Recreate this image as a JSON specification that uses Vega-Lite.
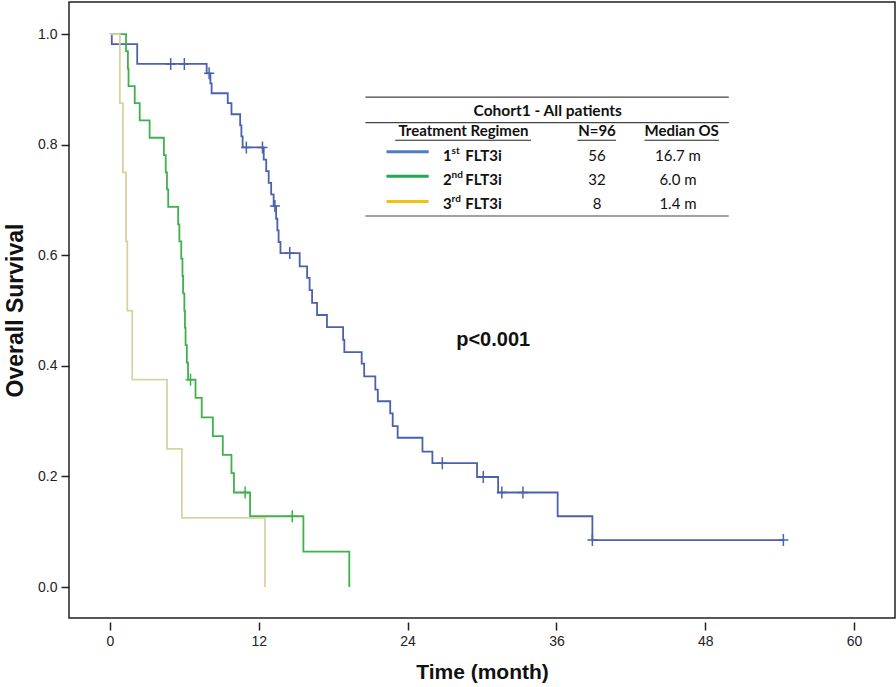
{
  "$schema": "https://vega.github.io/schema/vega-lite/v6.json",
  "width": 826,
  "height": 616,
  "autosize": {"type": "none"},
  "padding": {"left": 69, "top": 2, "right": 1, "bottom": 69},
  "background": "white",
  "config": {"view": {"stroke": "#222", "strokeWidth": 1.5}, "axis": {"grid": false}},
  "datasets": {
    "km": [
      {"regimen": "1st FLT3i", "month": 0, "survival": 1.0},
      {"regimen": "1st FLT3i", "month": 0.15, "survival": 0.982},
      {"regimen": "1st FLT3i", "month": 2.2, "survival": 0.946},
      {"regimen": "1st FLT3i", "month": 7.8, "survival": 0.929},
      {"regimen": "1st FLT3i", "month": 8.1, "survival": 0.911},
      {"regimen": "1st FLT3i", "month": 8.2, "survival": 0.893},
      {"regimen": "1st FLT3i", "month": 9.5, "survival": 0.875},
      {"regimen": "1st FLT3i", "month": 9.8, "survival": 0.855},
      {"regimen": "1st FLT3i", "month": 10.5, "survival": 0.835},
      {"regimen": "1st FLT3i", "month": 10.6, "survival": 0.815},
      {"regimen": "1st FLT3i", "month": 10.7, "survival": 0.795},
      {"regimen": "1st FLT3i", "month": 12.4, "survival": 0.773},
      {"regimen": "1st FLT3i", "month": 12.6, "survival": 0.752},
      {"regimen": "1st FLT3i", "month": 12.8, "survival": 0.731},
      {"regimen": "1st FLT3i", "month": 13.0, "survival": 0.710},
      {"regimen": "1st FLT3i", "month": 13.2, "survival": 0.689},
      {"regimen": "1st FLT3i", "month": 13.4, "survival": 0.666},
      {"regimen": "1st FLT3i", "month": 13.5, "survival": 0.645},
      {"regimen": "1st FLT3i", "month": 13.6, "survival": 0.624},
      {"regimen": "1st FLT3i", "month": 13.75, "survival": 0.604},
      {"regimen": "1st FLT3i", "month": 15.3, "survival": 0.580},
      {"regimen": "1st FLT3i", "month": 15.9, "survival": 0.559},
      {"regimen": "1st FLT3i", "month": 16.1, "survival": 0.537},
      {"regimen": "1st FLT3i", "month": 16.3, "survival": 0.514},
      {"regimen": "1st FLT3i", "month": 16.7, "survival": 0.492},
      {"regimen": "1st FLT3i", "month": 17.5, "survival": 0.470},
      {"regimen": "1st FLT3i", "month": 18.8, "survival": 0.447},
      {"regimen": "1st FLT3i", "month": 18.9, "survival": 0.425},
      {"regimen": "1st FLT3i", "month": 20.3, "survival": 0.404},
      {"regimen": "1st FLT3i", "month": 20.5, "survival": 0.381},
      {"regimen": "1st FLT3i", "month": 21.4, "survival": 0.357},
      {"regimen": "1st FLT3i", "month": 21.6, "survival": 0.336},
      {"regimen": "1st FLT3i", "month": 22.6, "survival": 0.314},
      {"regimen": "1st FLT3i", "month": 22.8, "survival": 0.291},
      {"regimen": "1st FLT3i", "month": 23.2, "survival": 0.270},
      {"regimen": "1st FLT3i", "month": 25.2, "survival": 0.245},
      {"regimen": "1st FLT3i", "month": 26.0, "survival": 0.224},
      {"regimen": "1st FLT3i", "month": 29.6, "survival": 0.199},
      {"regimen": "1st FLT3i", "month": 31.3, "survival": 0.171},
      {"regimen": "1st FLT3i", "month": 36.1, "survival": 0.128},
      {"regimen": "1st FLT3i", "month": 38.9, "survival": 0.085},
      {"regimen": "1st FLT3i", "month": 54.3, "survival": 0.085},
      {"regimen": "2nd FLT3i", "month": 0, "survival": 1.0},
      {"regimen": "2nd FLT3i", "month": 1.3, "survival": 0.969},
      {"regimen": "2nd FLT3i", "month": 1.45, "survival": 0.9375},
      {"regimen": "2nd FLT3i", "month": 1.5, "survival": 0.906},
      {"regimen": "2nd FLT3i", "month": 2.0, "survival": 0.875},
      {"regimen": "2nd FLT3i", "month": 2.4, "survival": 0.844},
      {"regimen": "2nd FLT3i", "month": 3.2, "survival": 0.8125},
      {"regimen": "2nd FLT3i", "month": 4.35, "survival": 0.781},
      {"regimen": "2nd FLT3i", "month": 4.5, "survival": 0.75},
      {"regimen": "2nd FLT3i", "month": 4.6, "survival": 0.719},
      {"regimen": "2nd FLT3i", "month": 4.7, "survival": 0.6875},
      {"regimen": "2nd FLT3i", "month": 5.5, "survival": 0.656},
      {"regimen": "2nd FLT3i", "month": 5.6, "survival": 0.625},
      {"regimen": "2nd FLT3i", "month": 5.75, "survival": 0.594},
      {"regimen": "2nd FLT3i", "month": 5.85, "survival": 0.5625},
      {"regimen": "2nd FLT3i", "month": 5.9, "survival": 0.531},
      {"regimen": "2nd FLT3i", "month": 6.0, "survival": 0.5},
      {"regimen": "2nd FLT3i", "month": 6.05, "survival": 0.469},
      {"regimen": "2nd FLT3i", "month": 6.1, "survival": 0.4375},
      {"regimen": "2nd FLT3i", "month": 6.2, "survival": 0.406},
      {"regimen": "2nd FLT3i", "month": 6.3, "survival": 0.375},
      {"regimen": "2nd FLT3i", "month": 6.9, "survival": 0.342},
      {"regimen": "2nd FLT3i", "month": 7.4, "survival": 0.307},
      {"regimen": "2nd FLT3i", "month": 8.3, "survival": 0.273},
      {"regimen": "2nd FLT3i", "month": 9.1, "survival": 0.239},
      {"regimen": "2nd FLT3i", "month": 9.8, "survival": 0.206},
      {"regimen": "2nd FLT3i", "month": 10.0, "survival": 0.171},
      {"regimen": "2nd FLT3i", "month": 11.3, "survival": 0.128},
      {"regimen": "2nd FLT3i", "month": 15.6, "survival": 0.064},
      {"regimen": "2nd FLT3i", "month": 19.3, "survival": 0.0},
      {"regimen": "3rd FLT3i", "month": 0, "survival": 1.0},
      {"regimen": "3rd FLT3i", "month": 0.8, "survival": 0.875},
      {"regimen": "3rd FLT3i", "month": 1.05, "survival": 0.75},
      {"regimen": "3rd FLT3i", "month": 1.3, "survival": 0.625},
      {"regimen": "3rd FLT3i", "month": 1.4, "survival": 0.5},
      {"regimen": "3rd FLT3i", "month": 1.8, "survival": 0.375},
      {"regimen": "3rd FLT3i", "month": 4.6, "survival": 0.25},
      {"regimen": "3rd FLT3i", "month": 5.8, "survival": 0.125},
      {"regimen": "3rd FLT3i", "month": 12.5, "survival": 0.0}
    ],
    "censor": [
      {"regimen": "1st FLT3i", "month": 4.9, "survival": 0.946},
      {"regimen": "1st FLT3i", "month": 6.0, "survival": 0.946},
      {"regimen": "1st FLT3i", "month": 8.0, "survival": 0.929},
      {"regimen": "1st FLT3i", "month": 11.0, "survival": 0.795},
      {"regimen": "1st FLT3i", "month": 12.3, "survival": 0.795},
      {"regimen": "1st FLT3i", "month": 13.3, "survival": 0.689},
      {"regimen": "1st FLT3i", "month": 14.5, "survival": 0.604},
      {"regimen": "1st FLT3i", "month": 26.8, "survival": 0.224},
      {"regimen": "1st FLT3i", "month": 30.1, "survival": 0.199},
      {"regimen": "1st FLT3i", "month": 31.6, "survival": 0.171},
      {"regimen": "1st FLT3i", "month": 33.3, "survival": 0.171},
      {"regimen": "1st FLT3i", "month": 38.9, "survival": 0.085},
      {"regimen": "1st FLT3i", "month": 54.3, "survival": 0.085},
      {"regimen": "2nd FLT3i", "month": 6.5, "survival": 0.375},
      {"regimen": "2nd FLT3i", "month": 10.9, "survival": 0.171},
      {"regimen": "2nd FLT3i", "month": 14.7, "survival": 0.128}
    ]
  },
  "layer": [
    {
      "data": {"name": "km"},
      "mark": {"type": "line", "interpolate": "step-after", "strokeWidth": 1.8},
      "encoding": {
        "x": {
          "field": "month", "type": "quantitative",
          "scale": {"domain": [-3.3, 63.3], "nice": false, "zero": false},
          "axis": {
            "title": "Time (month)", "values": [0, 12, 24, 36, 48, 60], "offset": 4, "domain": false,
            "tickSize": 8, "tickColor": "#222", "tickWidth": 1.5,
            "labelFont": "Liberation Sans", "labelFontSize": 14, "labelColor": "#222", "labelPadding": 4,
            "titleFont": "Liberation Sans", "titleFontSize": 21, "titleFontWeight": "bold", "titleColor": "#111", "titlePadding": 13
          }
        },
        "y": {
          "field": "survival", "type": "quantitative",
          "scale": {"domain": [-0.056, 1.058], "nice": false, "zero": false},
          "axis": {
            "title": "Overall Survival", "values": [0, 0.2, 0.4, 0.6, 0.8, 1.0], "format": ".1f", "domain": false,
            "tickSize": 8, "tickColor": "#222", "tickWidth": 1.5,
            "labelFont": "Liberation Sans", "labelFontSize": 14, "labelColor": "#222", "labelPadding": 4,
            "titleFont": "Liberation Sans", "titleFontSize": 23, "titleFontWeight": "bold", "titleColor": "#111", "titlePadding": 10
          }
        },
        "color": {
          "field": "regimen", "type": "nominal",
          "scale": {"domain": ["1st FLT3i", "2nd FLT3i", "3rd FLT3i"], "range": ["#4a62ad", "#3fb14c", "#d8d2a2"]},
          "legend": null
        }
      }
    },
    {
      "data": {"name": "censor"},
      "mark": {"type": "point", "shape": "M-1,0H1M0,-1.2V1.2", "filled": false, "size": 100, "strokeWidth": 1.5, "opacity": 1},
      "encoding": {
        "x": {"field": "month", "type": "quantitative"},
        "y": {"field": "survival", "type": "quantitative"},
        "color": {"field": "regimen", "type": "nominal", "legend": null}
      }
    },
    {
      "data": {"values": [{}]},
      "mark": {"type": "text", "font": "Liberation Sans", "fontSize": 20, "fontWeight": "bold", "align": "center", "baseline": "alphabetic", "color": "#111", "text": "p<0.001"},
      "encoding": {"x": {"datum": 30.9}, "y": {"datum": 0.436}}
    },
    {
      "data": {"values": [{}]},
      "mark": {"type": "rule", "color": "#444", "strokeWidth": 1.2},
      "encoding": {"x": {"datum": 20.6}, "x2": {"datum": 49.9}, "y": {"datum": 0.886}}
    },
    {
      "data": {"values": [{}]},
      "mark": {"type": "rule", "color": "#444", "strokeWidth": 1.2},
      "encoding": {"x": {"datum": 20.6}, "x2": {"datum": 49.9}, "y": {"datum": 0.840}}
    },
    {
      "data": {"values": [{}]},
      "mark": {"type": "rule", "color": "#444", "strokeWidth": 1.2},
      "encoding": {"x": {"datum": 20.6}, "x2": {"datum": 49.9}, "y": {"datum": 0.671}}
    },
    {
      "data": {"values": [{}]},
      "mark": {"type": "rule", "color": "#222", "strokeWidth": 1.2},
      "encoding": {"x": {"datum": 23.0}, "x2": {"datum": 33.95}, "y": {"datum": 0.808}}
    },
    {
      "data": {"values": [{}]},
      "mark": {"type": "rule", "color": "#222", "strokeWidth": 1.2},
      "encoding": {"x": {"datum": 37.7}, "x2": {"datum": 40.8}, "y": {"datum": 0.808}}
    },
    {
      "data": {"values": [{}]},
      "mark": {"type": "rule", "color": "#222", "strokeWidth": 1.2},
      "encoding": {"x": {"datum": 43.1}, "x2": {"datum": 49.1}, "y": {"datum": 0.808}}
    },
    {
      "data": {"values": [{}]},
      "mark": {"type": "rule", "color": "#4f7cc4", "strokeWidth": 3},
      "encoding": {"x": {"datum": 22.3}, "x2": {"datum": 25.7}, "y": {"datum": 0.787}}
    },
    {
      "data": {"values": [{}]},
      "mark": {"type": "rule", "color": "#1fa84f", "strokeWidth": 3},
      "encoding": {"x": {"datum": 22.3}, "x2": {"datum": 25.7}, "y": {"datum": 0.743}}
    },
    {
      "data": {"values": [{}]},
      "mark": {"type": "rule", "color": "#f4c20d", "strokeWidth": 3},
      "encoding": {"x": {"datum": 22.3}, "x2": {"datum": 25.7}, "y": {"datum": 0.697}}
    },
    {
      "data": {"values": [{}]},
      "mark": {"type": "text", "font": "Lato", "fontSize": 15.5, "fontWeight": "bold", "align": "center", "baseline": "alphabetic", "color": "#111", "text": "Cohort1 - All patients"},
      "encoding": {"x": {"datum": 35.3}, "y": {"datum": 0.8517}}
    },
    {
      "data": {"values": [{}]},
      "mark": {"type": "text", "font": "Lato", "fontSize": 15, "fontWeight": "bold", "align": "center", "baseline": "alphabetic", "color": "#111", "text": "Treatment Regimen"},
      "encoding": {"x": {"datum": 28.5}, "y": {"datum": 0.8156}}
    },
    {
      "data": {"values": [{}]},
      "mark": {"type": "text", "font": "Lato", "fontSize": 15, "fontWeight": "bold", "align": "center", "baseline": "alphabetic", "color": "#111", "text": "N=96"},
      "encoding": {"x": {"datum": 39.27}, "y": {"datum": 0.8156}}
    },
    {
      "data": {"values": [{}]},
      "mark": {"type": "text", "font": "Lato", "fontSize": 15, "fontWeight": "bold", "align": "center", "baseline": "alphabetic", "color": "#111", "text": "Median OS"},
      "encoding": {"x": {"datum": 46.1}, "y": {"datum": 0.8156}}
    },
    {
      "data": {"values": [{}]},
      "mark": {"type": "text", "font": "Lato", "fontSize": 15, "fontWeight": "bold", "align": "left", "baseline": "alphabetic", "lineHeight": 24, "color": "#111", "text": ["1", "2", "3"]},
      "encoding": {"x": {"datum": 26.85}, "y": {"datum": 0.770}}
    },
    {
      "data": {"values": [{}]},
      "mark": {"type": "text", "font": "Lato", "fontSize": 10, "fontWeight": "bold", "align": "left", "baseline": "alphabetic", "lineHeight": 24, "color": "#111", "text": ["st", "nd", "rd"]},
      "encoding": {"x": {"datum": 27.55}, "y": {"datum": 0.783}}
    },
    {
      "data": {"values": [{}]},
      "mark": {"type": "text", "font": "Lato", "fontSize": 15, "fontWeight": "bold", "align": "left", "baseline": "alphabetic", "lineHeight": 24, "color": "#111", "text": ["FLT3i", "FLT3i", "FLT3i"]},
      "encoding": {"x": {"datum": 28.65}, "y": {"datum": 0.770}}
    },
    {
      "data": {"values": [{}]},
      "mark": {"type": "text", "font": "Lato", "fontSize": 15, "align": "center", "baseline": "alphabetic", "lineHeight": 24, "color": "#111", "text": ["56", "32", "8"]},
      "encoding": {"x": {"datum": 39.27}, "y": {"datum": 0.770}}
    },
    {
      "data": {"values": [{}]},
      "mark": {"type": "text", "font": "Lato", "fontSize": 15, "align": "center", "baseline": "alphabetic", "lineHeight": 24, "color": "#111", "text": ["16.7 m", "6.0 m", "1.4 m"]},
      "encoding": {"x": {"datum": 45.8}, "y": {"datum": 0.770}}
    }
  ]
}
